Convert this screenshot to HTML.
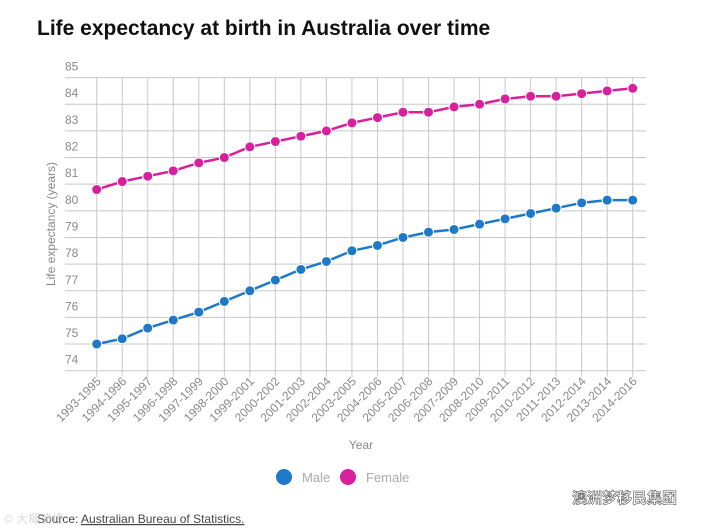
<!DOCTYPE html>
<html><head><meta charset="utf-8"><style>
body{margin:0;background:#fff;width:723px;height:531px;overflow:hidden;font-family:"Liberation Sans",sans-serif;}
svg{position:absolute;left:0;top:0}
</style></head><body>
<svg width="723" height="531">
<text x="37" y="35" font-size="21" font-weight="bold" fill="#111">Life expectancy at birth in Australia over time</text>
<g id="grid"></g>
<g id="yt"></g>
<g id="xt"></g>
<g id="series"></g>
<text x="0" y="0" transform="translate(55,224) rotate(-90)" text-anchor="middle" font-size="12" fill="#888">Life expectancy (years)</text>
<text x="361" y="449" text-anchor="middle" font-size="12" fill="#888">Year</text>
<g><circle cx="284" cy="477" r="8" fill="#1f78c8"/><text x="302" y="482" font-size="13" fill="#aaa">Male</text></g>
<g><circle cx="348" cy="477" r="8" fill="#d81f9d"/><text x="366" y="482" font-size="13" fill="#aaa">Female</text></g>
<text x="37" y="523" font-size="12" fill="#444">Source: <tspan text-decoration="underline">Australian Bureau of Statistics.</tspan></text>
<text x="4" y="523" font-size="12" fill="#ccc" opacity="0.7" font-family="'Liberation Sans','Noto Sans CJK SC',sans-serif">© 大椰澳境</text>
<text x="572" y="503" font-size="15" fill="#fff" stroke="#555" stroke-width="0.6" font-weight="bold" font-family="'Liberation Sans','Noto Sans CJK SC',sans-serif">澳洲梦移民集团</text>
</svg>
<script>
const categories=["1993-1995","1994-1996","1995-1997","1996-1998","1997-1999","1998-2000","1999-2001","2000-2002","2001-2003","2002-2004","2003-2005","2004-2006","2005-2007","2006-2008","2007-2009","2008-2010","2009-2011","2010-2012","2011-2013","2012-2014","2013-2014","2014-2016"];
const maleValues=[75.0,75.2,75.6,75.9,76.2,76.6,77.0,77.4,77.8,78.1,78.5,78.7,79.0,79.2,79.3,79.5,79.7,79.9,80.1,80.3,80.4,80.4];
const femaleValues=[80.8,81.1,81.3,81.5,81.8,82.0,82.4,82.6,82.8,83.0,83.3,83.5,83.7,83.7,83.9,84.0,84.2,84.3,84.3,84.4,84.5,84.6];
const yTicks=[74,75,76,77,78,79,80,81,82,83,84,85];
const NS="http://www.w3.org/2000/svg";
const x0=96.7,x1=632.7,left=65,right=646;
const xs=i=>x0+i*(x1-x0)/(categories.length-1);
const ys=v=>370.7-(v-74)*(370.7-77.6)/11;
function mk(t,a,p){const e=document.createElementNS(NS,t);for(const k in a)e.setAttribute(k,a[k]);p.appendChild(e);return e;}
const grid=document.getElementById('grid'),yt=document.getElementById('yt'),xt=document.getElementById('xt'),ser=document.getElementById('series');
yTicks.forEach(v=>{
 const l=mk('line',{x1:left,x2:right,y1:ys(v),y2:ys(v),stroke:'#c8c8c8','stroke-width':1},grid);
 
 
 const t=mk('text',{x:65,y:ys(v)-7,'font-size':12,fill:'#888'},yt);t.textContent=v;
 
 
});
categories.forEach((c,i)=>{
 const l=mk('line',{x1:xs(i),x2:xs(i),y1:ys(85),y2:ys(74)+6,stroke:'#c8c8c8','stroke-width':1},grid);
 
 
 const t=mk('text',{x:0,y:0,transform:`translate(${xs(i)+5},${382}) rotate(-45)`,'text-anchor':'end','font-size':12,fill:'#888'},xt);t.textContent=c;
 
 
});
[[maleValues,'#1f78c8','male'],[femaleValues,'#d81f9d','female']].forEach(([vals,col,n])=>{
 const p=mk('polyline',{points:vals.map((v,i)=>xs(i)+','+ys(v)).join(' '),fill:'none',stroke:col,'stroke-width':2.5},ser);
 
 
 vals.forEach((v,i)=>{
  const c=mk('circle',{cx:xs(i),cy:ys(v),r:5,fill:col,stroke:'#fff','stroke-width':1},ser);
  
  
 });
});
</script>
</body></html>
